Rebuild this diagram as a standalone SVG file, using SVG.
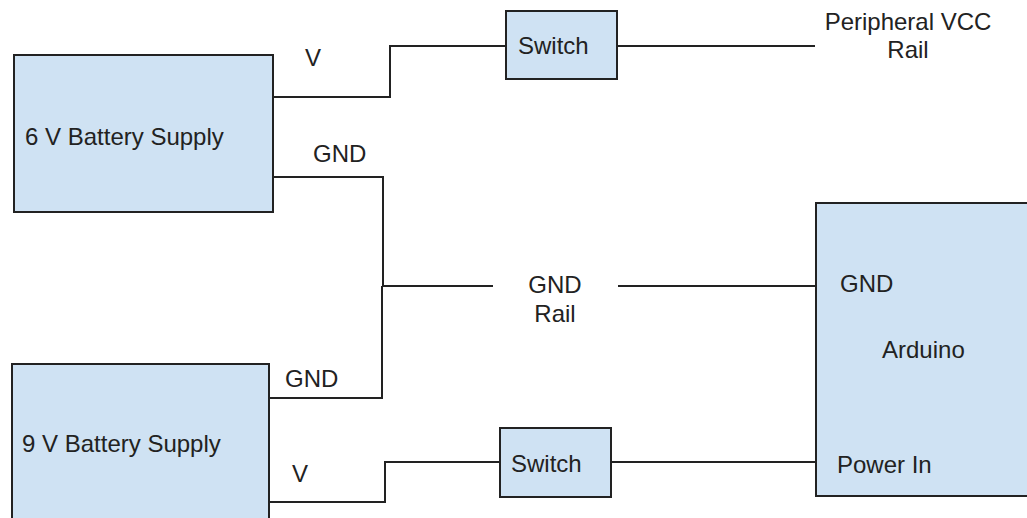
<svg xmlns="http://www.w3.org/2000/svg" width="1027" height="518" viewBox="0 0 1027 518">
<style>
.box{fill:#cfe2f3;stroke:#222;stroke-width:2}
.wire{fill:none;stroke:#222;stroke-width:2}
text{font-family:"Liberation Sans",Arial,sans-serif;font-size:24px;fill:#222}
.mid{text-anchor:middle}
</style>
<rect width="1027" height="518" fill="#fff"/>
<g id="connectors">
<polyline class="wire" points="273,97 390,97 390,46 506,46"/>
<line class="wire" x1="617" y1="46" x2="815" y2="46"/>
<polyline class="wire" points="273,177 383,177 383,286"/>
<polyline class="wire" points="269,398 382,398 382,286"/>
<line class="wire" x1="382" y1="286" x2="493" y2="286"/>
<line class="wire" x1="618" y1="286" x2="816" y2="286"/>
<polyline class="wire" points="269,502 385,502 385,462 500,462"/>
<line class="wire" x1="611" y1="462" x2="825" y2="462"/>
</g>
<g id="battery6">
<rect class="box" x="14" y="55" width="259" height="157"/>
<text x="25" y="145">6 V Battery Supply</text>
</g>
<g id="battery9">
<rect class="box" x="12" y="364" width="257" height="170"/>
<text x="22" y="452">9 V Battery Supply</text>
</g>
<g id="switch1">
<rect class="box" x="506" y="11" width="111" height="68"/>
<text x="518" y="54">Switch</text>
</g>
<g id="switch2">
<rect class="box" x="500" y="428" width="111" height="69"/>
<text x="511" y="472">Switch</text>
</g>
<g id="arduino">
<rect class="box" x="816" y="203" width="220" height="293"/>
<text x="840" y="292">GND</text>
<text x="882" y="358">Arduino</text>
<text x="837" y="473">Power In</text>
</g>
<g id="labels">
<text x="305" y="66">V</text>
<text x="313" y="162">GND</text>
<text x="285" y="387">GND</text>
<text x="292" y="482">V</text>
<text class="mid" x="555" y="293">GND</text>
<text class="mid" x="555" y="322">Rail</text>
<text class="mid" x="908" y="30">Peripheral VCC</text>
<text class="mid" x="908" y="58">Rail</text>
</g>
</svg>
